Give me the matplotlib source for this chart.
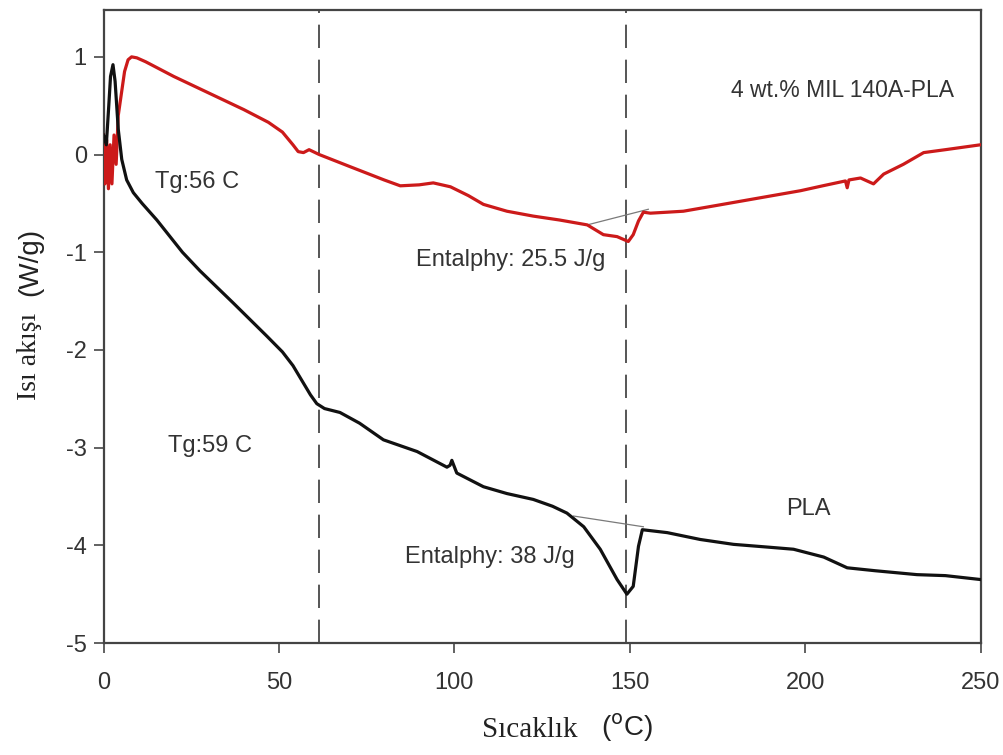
import matplotlib
matplotlib.use("Agg")
import matplotlib.pyplot as plt

# DSC curves
# red: 4 wt.% MIL 140A-PLA
red_x = [0, 0.4, 0.9, 1.4, 1.9, 2.4, 3.0, 3.6, 4.2, 5.0, 6.0, 7.0, 8.0, 9.5, 12, 20, 30, 40,
         47, 51, 54, 55.5, 57, 58.6, 61.5, 70, 75, 80, 84.6, 90, 94, 98.9, 104, 108.3, 115,
         122.5, 130, 137.9, 142.5, 146.4, 149.6, 151, 152.5, 153.9, 155.9, 160.7, 165.3,
         170.1, 174.9, 186, 198.7, 205, 211.5, 212, 212.5, 215.8, 219.5, 222.4, 228, 233.8,
         240, 250]
red_y = [0.2, -0.3, 0.15, -0.35, 0.1, -0.3, 0.2, -0.1, 0.4, 0.6, 0.85, 0.97, 1.0, 0.99, 0.95,
         0.8, 0.63, 0.46, 0.33, 0.23, 0.1, 0.03, 0.02, 0.05, 0.0, -0.12, -0.19, -0.26, -0.32,
         -0.31, -0.29, -0.33, -0.42, -0.51, -0.58, -0.63, -0.67, -0.72, -0.82, -0.84, -0.89,
         -0.82, -0.68, -0.59, -0.6, -0.59, -0.58, -0.55, -0.52, -0.45, -0.37, -0.32, -0.27,
         -0.34, -0.26, -0.24, -0.3, -0.2, -0.1, 0.02, 0.05, 0.1]

# black: PLA
black_x = [0, 0.8, 1.5, 2.0, 2.7, 3.3, 4.2, 5.2, 6.6, 8.5, 11, 15.2, 22.5, 27.5, 37, 46.6,
           51, 54, 57, 59, 60.8, 63, 67.4, 73, 79.8, 89.4, 97.9, 98.8, 99.3, 100.7, 108.3,
           115, 122.5, 128, 132.1, 136.9, 141.6, 146.4, 149.2, 151, 152.5, 153.6, 160.7,
           170.1, 179.6, 190, 196.7, 205.3, 212, 220, 231.9, 240, 250]
black_y = [0.2, 0.1, 0.5, 0.8, 0.92, 0.75, 0.26, -0.05, -0.26, -0.39, -0.5, -0.67, -1.0,
           -1.19, -1.52, -1.86, -2.02, -2.16, -2.34, -2.46, -2.55, -2.6, -2.64, -2.75, -2.92,
           -3.04, -3.2, -3.18, -3.13, -3.26, -3.4, -3.47, -3.53, -3.6, -3.67, -3.81, -4.04,
           -4.35, -4.5, -4.42, -4.01, -3.84, -3.87, -3.94, -3.99, -4.02, -4.04, -4.12, -4.23,
           -4.26, -4.3, -4.31, -4.35]

# peak baselines
red_base_x = [137.9, 155.3]
red_base_y = [-0.72, -0.56]
black_base_x = [134, 153.9]
black_base_y = [-3.7, -3.81]

# Tg / melting marker lines
vlines_x = [61.5, 149]

xticks = [0, 50, 100, 150, 200, 250]
yticks = [-5, -4, -3, -2, -1, 0, 1]

sans = "Liberation Sans"
serif = "Liberation Serif"
txt_col = "#333333"

fig = plt.figure(figsize=(10.04, 7.55), dpi=100)
ax = fig.add_axes([0.1031, 0.1483, 0.8735, 0.8385])

for xv in vlines_x:
    ax.axvline(xv, color="#555555", lw=1.4, dashes=(12, 6), zorder=1)

ax.plot(red_base_x, red_base_y, color="#7a7a7a", lw=0.9, zorder=2)
ax.plot(black_base_x, black_base_y, color="#7a7a7a", lw=0.9, zorder=2)
ax.plot(red_x, red_y, color="#cc1a1a", lw=2.3, zorder=3)
ax.plot(black_x, black_y, color="#111111", lw=2.3, zorder=3)

ax.set_xlim(0, 250)
ax.set_ylim(-5, 1.48)
ax.set_xticks(xticks)
ax.set_yticks(yticks)
ax.set_xticklabels([str(v) for v in xticks], fontfamily=sans, fontsize=17, color=txt_col)
ax.set_yticklabels([str(v) for v in yticks], fontfamily=sans, fontsize=17, color=txt_col)
ax.tick_params(axis="x", direction="out", length=7, width=1.3, color="#555555", pad=14)
ax.tick_params(axis="y", direction="out", length=7, width=1.3, color="#555555", pad=5)
for sp in ax.spines.values():
    sp.set_color("#444444")
    sp.set_linewidth(1.6)

# annotations
ax.text(26.8, -0.34, "Tg:56 C", ha="center", va="baseline", fontfamily=sans, fontsize=17, color=txt_col)
ax.text(30.4, -3.04, "Tg:59 C", ha="center", va="baseline", fontfamily=sans, fontsize=17, color=txt_col)
ax.text(116, -1.14, "Entalphy: 25.5 J/g", ha="center", va="baseline", fontfamily=sans, fontsize=17, color=txt_col)
ax.text(110.1, -4.18, "Entalphy: 38 J/g", ha="center", va="baseline", fontfamily=sans, fontsize=17, color=txt_col)
ax.text(200.8, -3.69, "PLA", ha="center", va="baseline", fontfamily=sans, fontsize=17, color=txt_col)
ax.text(210.8, 0.594, "4 wt.% MIL 140A-PLA", ha="center", va="baseline", fontfamily=sans, fontsize=16.5, color=txt_col)

# axis labels (serif word + sans unit, as in the original)
fig.text(30 / 1004, 1 - 356 / 755, "Isı akışı", rotation=90, ha="center", va="center",
         fontfamily=serif, fontsize=20, color="#222222")
fig.text(30 / 1004, 1 - 262 / 755, "(W/g)", rotation=90, ha="center", va="center",
         fontfamily=sans, fontsize=20, color="#222222")
fig.text(530 / 1004, 1 - 730 / 755, "Sıcaklık", ha="center", va="center",
         fontfamily=serif, fontsize=21, color="#222222")
fig.text(627 / 1004, 1 - 728 / 755, r"($^{\mathrm{o}}$C)", ha="center", va="center",
         fontfamily=sans, fontsize=20, color="#222222")

fig.savefig("out.png", dpi=100)
